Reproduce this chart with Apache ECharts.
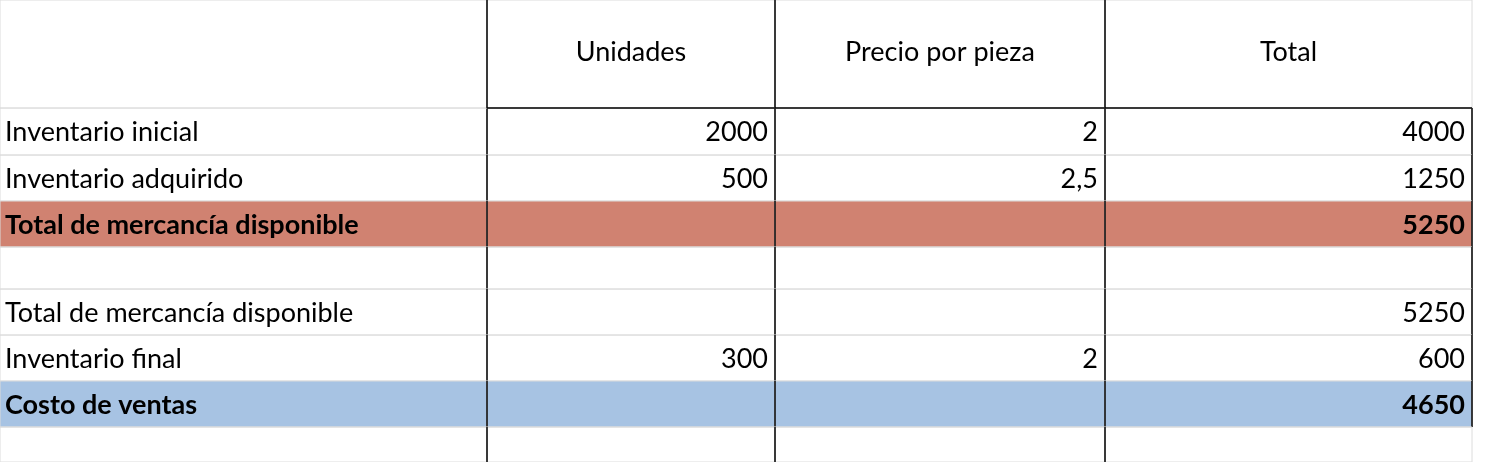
<!DOCTYPE html>
<html><head><meta charset="utf-8">
<script src="https://cdn.jsdelivr.net/npm/echarts@6/dist/echarts.min.js"></script>
<style>html,body{margin:0;padding:0;background:#fff}#c{width:1488px;height:462px}</style>
</head><body><div id="c"></div>
<script>
const headers = ['', 'Unidades', 'Precio por pieza', 'Total'];
const rowLabels = ['Inventario inicial','Inventario adquirido','Total de mercancía disponible','','Total de mercancía disponible','Inventario final','Costo de ventas',''];
const units = ['2000','500','','','','300','',''];
const prices = ['2','2,5','','','','2','',''];
const totals = ['4000','1250','5250','','5250','600','4650',''];
const boldRows = [2, 6];
const rowFill = {2:'#d08271', 6:'#a7c3e3'};

// layout
const colX = [0, 487, 775, 1105, 1472, 1488];
const rowY = [0, 108, 155, 201, 247, 289, 335, 381, 427, 462];
const FONT = 'Lato, "Noto Sans", sans-serif';

const cells = [];
for (let r = 0; r < rowLabels.length; r++) {
  const vals = [rowLabels[r], units[r], prices[r], totals[r]];
  for (let c = 0; c < 4; c++) cells.push([c, r + 1, vals[c]]);
}
for (let c = 0; c < 4; c++) cells.push([c, 0, headers[c]]);

const chart = echarts.init(document.getElementById('c'));
chart.setOption({
  animation: false,
  grid: {left: 0, right: 0, top: 0, bottom: 0},
  xAxis: {type: 'value', min: 0, max: 1488, show: false},
  yAxis: {type: 'value', min: 0, max: 462, inverse: true, show: false},
  series: [{
    type: 'custom',
    coordinateSystem: 'cartesian2d',
    data: cells,
    renderItem: function (params, api) {
      const c = api.value(0), r = api.value(1);
      const text = cells[params.dataIndex][2];
      const p0 = api.coord([colX[c], rowY[r]]);
      const p1 = api.coord([colX[c + 1], rowY[r + 1]]);
      const children = [];
      const dr = r - 1;
      const fill = rowFill[dr];
      children.push({type: 'rect', shape: {x: p0[0], y: p0[1], width: p1[0] - p0[0], height: p1[1] - p0[1]},
        style: {fill: fill || 'transparent', stroke: '#dcdcdc', lineWidth: 1}});
      const bold = boldRows.indexOf(dr) >= 0;
      let tx, align;
      if (r === 0) { tx = (p0[0] + p1[0]) / 2; align = 'center'; }
      else if (c === 0) { tx = p0[0] + 5; align = 'left'; }
      else { tx = p1[0] - 7; align = 'right'; }
      children.push({type: 'text', style: {x: tx, y: r === 0 ? 52 : (p0[1] + p1[1]) / 2 + 1, text: text, align: align,
        verticalAlign: 'middle', fill: '#000', font: (bold ? 'bold ' : '') + '27px ' + FONT}});
      if (c >= 1) children.push({type: 'line', shape: {x1: p0[0], y1: p0[1], x2: p0[0], y2: p1[1]}, style: {stroke: '#000', lineWidth: 1.5}});
      if (c === 3) children.push({type: 'line', shape: {x1: p1[0], y1: r === 0 ? p1[1] : p0[1], x2: p1[0], y2: r >= 8 ? p0[1] : p1[1]}, style: {stroke: '#000', lineWidth: 1.5}});
      if (r === 0 && c >= 1) children.push({type: 'line', shape: {x1: p0[0], y1: p1[1], x2: p1[0], y2: p1[1]}, style: {stroke: '#000', lineWidth: 1.5}});
      return {type: 'group', children: children};
    }
  }]
});
</script></body></html>
